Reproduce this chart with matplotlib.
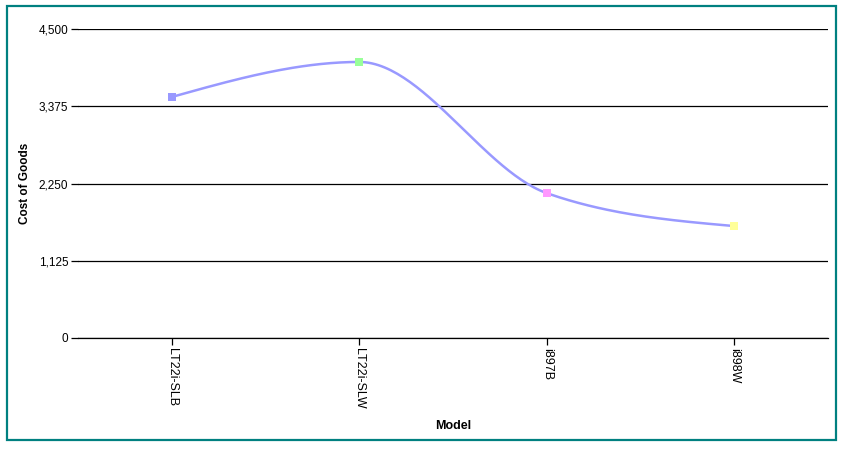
import numpy as np
import matplotlib
matplotlib.use("Agg")
import matplotlib.pyplot as plt
from matplotlib.patches import Rectangle

# данные
models = ["LT22i-SLB", "LT22i-SLW", "i897B", "i898W"]
cost_of_goods = [3510, 4020, 2110, 1630]
marker_colors = ["#9999ff", "#99ff99", "#ff99ff", "#ffff99"]
y_ticks = [0, 1125, 2250, 3375, 4500]


def monotone_curve(x, y, n=60):
    """Монотонная кубическая интерполяция (как curveMonotoneX)"""
    x = np.asarray(x, float)
    y = np.asarray(y, float)
    h = np.diff(x)
    s = np.diff(y) / h
    k = len(x)
    m = np.zeros(k)
    for i in range(1, k - 1):
        p = (s[i - 1] * h[i] + s[i] * h[i - 1]) / (h[i - 1] + h[i])
        m[i] = (np.sign(s[i - 1]) + np.sign(s[i])) * min(abs(s[i - 1]), abs(s[i]), 0.5 * abs(p))
    m[0] = (3 * s[0] - m[1]) / 2
    m[-1] = (3 * s[-1] - m[-2]) / 2
    xs_all, ys_all = [], []
    for i in range(k - 1):
        t = np.linspace(0, 1, n)
        h00 = 2 * t**3 - 3 * t**2 + 1
        h10 = t**3 - 2 * t**2 + t
        h01 = -2 * t**3 + 3 * t**2
        h11 = t**3 - t**2
        xs_all.append(x[i] + t * h[i])
        ys_all.append(h00 * y[i] + h10 * h[i] * m[i] + h01 * y[i + 1] + h11 * h[i] * m[i + 1])
    return np.concatenate(xs_all), np.concatenate(ys_all)


plt.rcParams['font.family'] = ['Liberation Sans', 'DejaVu Sans']

fig = plt.figure(figsize=(8.44, 4.51), dpi=100)
fig.patches.append(Rectangle((7 / 844, 11 / 451), 829 / 844, 434 / 451,
                             transform=fig.transFigure, fill=False,
                             edgecolor="#008080", linewidth=1.6))

ax = fig.add_axes([78 / 844, 1 - 338 / 451, 750 / 844, 309 / 451])

pos = np.arange(len(models))
xs, ys = monotone_curve(pos, cost_of_goods)
ax.plot(xs, ys, color="#9999ff", linewidth=1.8, zorder=3)
for x, y, c in zip(pos, cost_of_goods, marker_colors):
    ax.plot(x, y, marker="s", markersize=5.5, color=c, markeredgewidth=0, zorder=4)

ax.set_xlim(-0.5, 3.5)
ax.set_ylim(0, 4500)
ax.set_yticks(y_ticks)
ax.set_yticklabels([f"{v:,}" for v in y_ticks], fontsize=8.5)
ax.set_xticks(pos)
ax.set_xticklabels(models, rotation=270, fontsize=9)
ax.grid(axis="y", color="black", linewidth=0.9)
ax.set_axisbelow(True)
for s in ["left", "right", "top"]:
    ax.spines[s].set_visible(False)
ax.spines["bottom"].set_linewidth(0.9)
ax.tick_params(axis="y", length=5, width=0.9, pad=2)
ax.tick_params(axis="x", length=5, width=0.9, pad=2)

ax.set_xlabel("Model", fontsize=9, fontweight="bold")
ax.set_ylabel("Cost of Goods", fontsize=8.5, fontweight="bold")
ax.xaxis.set_label_coords(0.5, -0.265)
ax.yaxis.set_label_coords(-0.062, 0.5)

fig.savefig("out.png", dpi=100)
